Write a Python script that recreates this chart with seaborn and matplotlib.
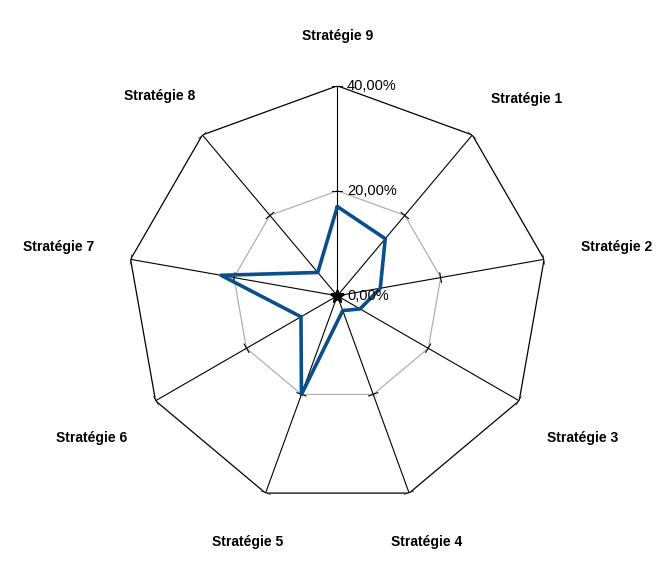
import numpy as np
import matplotlib
matplotlib.use('Agg')
import matplotlib.pyplot as plt
import seaborn as sns

sns.set_style('white')
plt.rcParams['font.family'] = ['Liberation Sans', 'DejaVu Sans']
plt.rcParams['text.color'] = 'black'

categories = ['Stratégie 9', 'Stratégie 1', 'Stratégie 2', 'Stratégie 3', 'Stratégie 4',
              'Stratégie 5', 'Stratégie 6', 'Stratégie 7', 'Stratégie 8']
values = [17.0, 14.2, 8.3, 5.0, 3.0, 20.0, 8.0, 22.5, 5.8]
rings = [20, 40]
ring_labels = ['0,00%', '20,00%', '40,00%']
label_radius = [49.5, 52, 54, 54, 50, 50, 54, 54, 51]
label_shift = [0, 0.07, 0, 0, 0, 0, 0, 0, -0.03]

n = len(categories)
theta = np.linspace(0, 2 * np.pi, n, endpoint=False)
closed = np.append(theta, theta[0])

fig = plt.figure(figsize=(6.7, 5.8), dpi=100)
ax = fig.add_axes([0.19, 0.128, 0.627, 0.724], projection='polar')
ax.set_theta_zero_location('N')
ax.set_theta_direction(-1)
ax.set_ylim(0, 40)
ax.grid(False)
ax.spines['polar'].set_visible(False)
ax.set_xticks([])
ax.set_yticks([])

# polygon grid
ax.plot(closed, [20] * (n + 1), color='#b0b0b0', lw=0.9)
ax.plot(closed, [40] * (n + 1), color='black', lw=0.9)
for t in theta:
    ax.plot([t, t], [0, 40], color='black', lw=0.8)
    for r in rings:
        d = 5 / (r * 5.25)
        ax.plot([t - d, t + d], [r, r], color='black', lw=0.8)

ax.plot(closed, np.append(values, values[0]), color='#0b4f8a', lw=2.6)
ax.plot([0], [0], marker='*', color='black', ms=10)

for t, lab, lr, sh in zip(theta, categories, label_radius, label_shift):
    ax.text(t + sh, lr, lab, ha='center', va='center', fontsize=10, fontweight='bold',
            color='black', clip_on=False)

for r, lab in zip([0, 20, 40], ring_labels):
    ax.annotate(lab, xy=(0, r), xytext=(7, 0), textcoords='offset points',
                ha='left', va='center', fontsize=10.5, color='black', annotation_clip=False)

fig.savefig('out.png', dpi=100, facecolor='white')
